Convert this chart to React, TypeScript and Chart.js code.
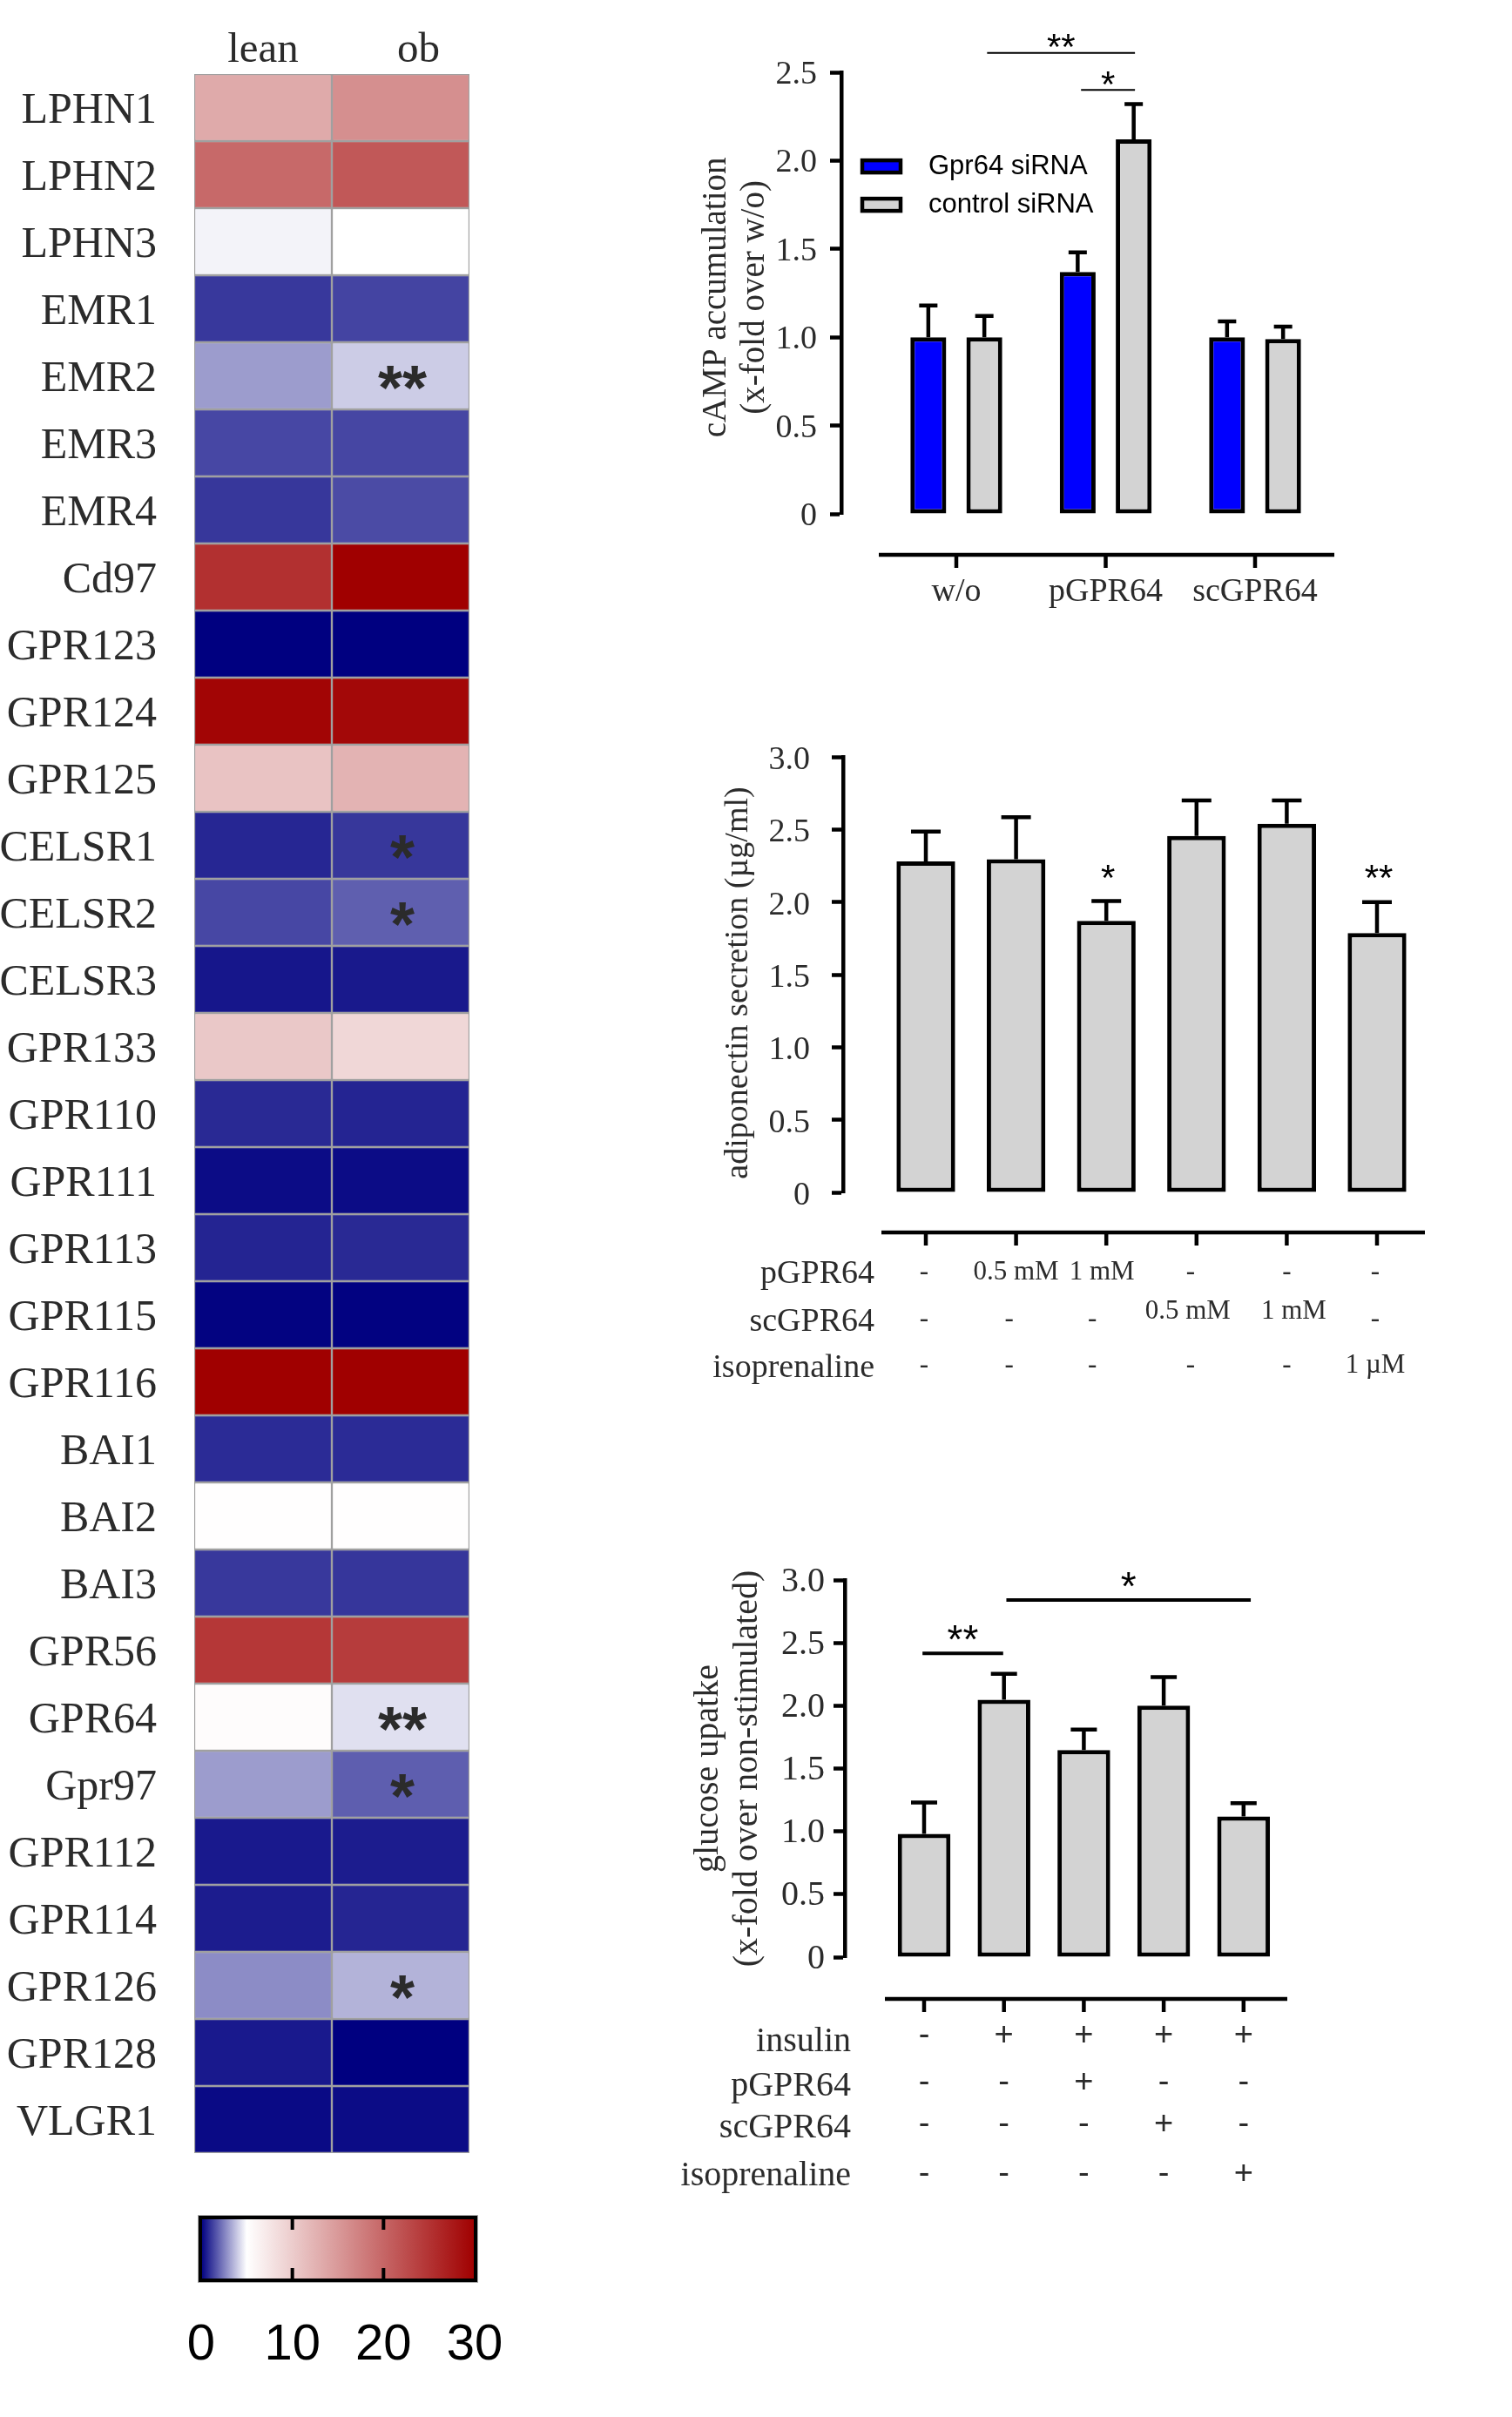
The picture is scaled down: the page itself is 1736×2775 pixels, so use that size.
import { useEffect, useRef } from "react"
import { Chart, registerables } from "chart.js"

Chart.register(...registerables)

const SERIF = '"Liberation Serif", serif'
const SANS = '"Liberation Sans", sans-serif'
const INK = "#2b2b2b"

// heatmap
const genes = [
  "LPHN1", "LPHN2", "LPHN3", "EMR1", "EMR2", "EMR3", "EMR4", "Cd97", "GPR123", "GPR124", "GPR125",
  "CELSR1", "CELSR2", "CELSR3", "GPR133", "GPR110", "GPR111", "GPR113", "GPR115", "GPR116",
  "BAI1", "BAI2", "BAI3", "GPR56", "GPR64", "Gpr97", "GPR112", "GPR114", "GPR126", "GPR128", "VLGR1",
]
const heatColumns = ["lean", "ob"]
const leanValues = [
  13.3, 19.7, 4.76, 1.1, 3.05, 1.4, 1.08, 25.3, 0, 29.5, 10.9,
  0.75, 1.4, 0.43, 10.4, 0.8, 0.23, 0.7, 0.05, 30,
  0.85, 5.1, 1.1, 24.6, 5.3, 3.05, 0.5, 0.55, 2.75, 0.5, 0.2,
]
const obValues = [
  16, 21.4, 5, 1.33, 4, 1.37, 1.47, 30, 0, 29.2, 12.5,
  1.08, 1.86, 0.49, 8.9, 0.7, 0.23, 0.8, 0.03, 30,
  0.85, 5.1, 1.05, 24.1, 4.4, 1.85, 0.55, 0.72, 3.5, 0, 0.24,
]
const obMarks = [
  "", "", "", "", "**", "", "", "", "", "", "",
  "*", "*", "", "", "", "", "", "", "",
  "", "", "", "", "**", "*", "", "", "*", "", "",
]
const colorbarTicks = [0, 10, 20, 30]

// cAMP panel
const campCategories = ["w/o", "pGPR64", "scGPR64"]
const gpr64SirnaValues = [1.0, 1.37, 1.0]
const gpr64SirnaTops = [1.18, 1.48, 1.09]
const controlSirnaValues = [1.0, 2.12, 0.99]
const controlSirnaTops = [1.12, 2.32, 1.06]

// adiponectin panel
const adipoValues = [2.28, 2.295, 1.87, 2.455, 2.54, 1.786]
const adipoTops = [2.486, 2.585, 2.007, 2.7, 2.7, 2.0]
const adipoMarks = ["", "", "*", "", "", "**"]
const adipoPgpr64 = ["-", "0.5 mM", "1 mM", "-", "-", "-"]
const adipoScgpr64 = ["-", "-", "-", "0.5 mM", "1 mM", "-"]
const adipoIso = ["-", "-", "-", "-", "-", "1 µM"]

// glucose panel
const glucoseValues = [0.98, 2.047, 1.647, 2.0, 1.119]
const glucoseTops = [1.23, 2.254, 1.81, 2.227, 1.224]
const glucoseInsulin = ["-", "+", "+", "+", "+"]
const glucosePgpr64 = ["-", "-", "+", "-", "-"]
const glucoseScgpr64 = ["-", "-", "-", "+", "-"]
const glucoseIso = ["-", "-", "-", "-", "+"]

function heatColor(v: number) {
  if (v <= 5) {
    const s = 1 - v / 5
    return `rgb(${Math.round(255 * (1 - s))},${Math.round(255 * (1 - s))},${Math.round(255 - 127 * s)})`
  }
  const t = (v - 5) / 25
  return `rgb(${Math.round(255 - 95 * t)},${Math.round(255 * (1 - t))},${Math.round(255 * (1 - t))})`
}

function drawStars(ctx: CanvasRenderingContext2D, text: string, x: number, y: number, size: number, color = "#000", weight = "") {
  ctx.save()
  ctx.font = `${weight} ${size}px ${SANS}`
  ctx.fillStyle = color
  ctx.textAlign = "center"
  ctx.textBaseline = "alphabetic"
  ctx.fillText(text, x, y + size * 0.47)
  ctx.restore()
}

type Panel = {
  box: { left: number; top: number; width: number; height: number }
  area: { left: number; right: number; top: number; bottom: number }
  firstTick: number
  tickStep: number
  axisStart: number
  axisDrop: number
  yMax: number
  tickFont: number
  tickGap: number
  tickDrop: number
  title: string[]
  titleFont: number
  titleX: number
  capWidth: number
  categories?: string[]
  categoryPadding?: number
  categoryFont?: number
  barGroup: number
  barShare: number
}

function makeBarChart(canvas: HTMLCanvasElement, p: Panel, datasets: any[], draw: (chart: any) => void) {
  const xMin = (p.area.left - p.firstTick) / p.tickStep
  const xMax = (p.area.right - p.firstTick) / p.tickStep
  const count = datasets[0].data.length
  const titleLine = p.titleFont * 1.13
  return new Chart(canvas, {
    type: "bar",
    data: { datasets },
    options: {
      animation: false,
      responsive: false,
      devicePixelRatio: 1,
      layout: {
        padding: {
          top: p.area.top - p.box.top,
          right: p.box.left + p.box.width - p.area.right,
          left: 0,
          bottom: 0,
        },
      },
      datasets: { bar: { categoryPercentage: p.barGroup, barPercentage: p.barShare } },
      scales: {
        x: {
          type: "linear",
          offset: false,
          min: xMin,
          max: xMax,
          afterBuildTicks: (s: any) => {
            s.ticks = Array.from({ length: count }, (_, i) => ({ value: i }))
          },
          afterFit: (s: any) => {
            s.height = p.box.top + p.box.height - p.area.bottom
          },
          border: { display: false },
          grid: { display: false, drawTicks: false },
          ticks: {
            display: !!p.categories,
            autoSkip: false,
            maxRotation: 0,
            padding: p.categoryPadding ?? 0,
            color: INK,
            font: { family: SERIF, size: p.categoryFont ?? 38 },
            callback: (_: any, i: number) => (p.categories ? p.categories[i] : ""),
          },
        },
        y: {
          min: 0,
          max: p.yMax,
          afterFit: (s: any) => {
            s.width = p.area.left - p.box.left
          },
          border: { display: true, color: "#000", width: 4.5 },
          grid: { display: true, drawOnChartArea: false, drawTicks: true, tickLength: 13, tickWidth: 4.5, tickColor: "#000" },
          ticks: {
            stepSize: 0.5,
            autoSkip: false,
            padding: p.tickGap,
            labelOffset: p.tickDrop,
            color: INK,
            font: { family: SERIF, size: p.tickFont },
            callback: (v: any) => (v === 0 ? "0" : Number(v).toFixed(1)),
          },
          title: {
            display: true,
            text: p.title,
            color: INK,
            font: { family: SERIF, size: p.titleFont, lineHeight: 1.13 },
            padding: { top: p.titleX - p.box.left - titleLine / 2, bottom: 0 },
          },
        },
      },
      plugins: { legend: { display: false }, tooltip: { enabled: false } },
    } as any,
    plugins: [
      {
        id: "panelExtras",
        beforeDatasetsDraw(chart: any) {
          // error bars, from the tops list of each dataset
          const { ctx } = chart
          const yScale = chart.scales.y
          chart.data.datasets.forEach((ds: any, i: number) => {
            chart.getDatasetMeta(i).data.forEach((bar: any, j: number) => {
              const top = yScale.getPixelForValue(ds.tops[j])
              ctx.save()
              ctx.strokeStyle = "#000"
              ctx.lineWidth = 4.5
              ctx.beginPath()
              ctx.moveTo(bar.x, bar.y)
              ctx.lineTo(bar.x, top)
              ctx.moveTo(bar.x - p.capWidth / 2, top)
              ctx.lineTo(bar.x + p.capWidth / 2, top)
              ctx.stroke()
              ctx.restore()
            })
          })
        },
        afterDraw(chart: any) {
          // the detached category axis
          const { ctx, chartArea } = chart
          const xScale = chart.scales.x
          const y = chartArea.bottom + p.axisDrop
          ctx.save()
          ctx.strokeStyle = "#000"
          ctx.lineWidth = 4.5
          ctx.beginPath()
          ctx.moveTo(p.axisStart - p.box.left, y)
          ctx.lineTo(chartArea.right, y)
          for (let i = 0; i < count; i++) {
            const x = xScale.getPixelForValue(i)
            ctx.moveTo(x, y)
            ctx.lineTo(x, y + 15)
          }
          ctx.stroke()
          ctx.restore()
          draw(chart)
        },
      },
    ],
  })
}

function drawBracket(chart: any, from: number, to: number, value: number, marks: string, width: number, size: number, lift: number) {
  const { ctx } = chart
  const x1 = chart.scales.x.getPixelForValue(from)
  const x2 = chart.scales.x.getPixelForValue(to)
  const y = chart.scales.y.getPixelForValue(value)
  ctx.save()
  ctx.strokeStyle = "#000"
  ctx.lineWidth = width
  ctx.beginPath()
  ctx.moveTo(x1, y)
  ctx.lineTo(x2, y)
  ctx.stroke()
  ctx.restore()
  drawStars(ctx, marks, (x1 + x2) / 2, y - lift, size)
}

function drawTable(
  chart: any,
  rows: { label: string; cells: string[]; labelDrop: number; cellDrop: number; textRise?: number }[],
  labelRight: number,
  labelFont: number,
  cellFont: string,
  dashNudge: number[],
  textNudge: number[],
) {
  const { ctx, chartArea } = chart
  ctx.save()
  ctx.fillStyle = INK
  ctx.textBaseline = "middle"
  rows.forEach((row) => {
    ctx.font = `${labelFont}px ${SERIF}`
    ctx.textAlign = "right"
    ctx.fillText(row.label, labelRight, chartArea.bottom + row.labelDrop)
    ctx.font = cellFont
    ctx.textAlign = "center"
    row.cells.forEach((cell, i) => {
      const symbol = cell === "-" || cell === "+"
      const x = chart.scales.x.getPixelForValue(i) + (symbol ? dashNudge[i] : textNudge[i])
      ctx.fillText(cell, x, chartArea.bottom + row.cellDrop - (symbol ? 0 : row.textRise ?? 0))
    })
  })
  ctx.restore()
}

const campPanel: Panel = {
  box: { left: 760, top: 0, width: 976, height: 720 },
  area: { left: 966, right: 1532, top: 83, bottom: 590 },
  firstTick: 1098,
  tickStep: 171.5,
  axisStart: 1009,
  axisDrop: 47,
  yMax: 2.5,
  tickFont: 38,
  tickGap: 15,
  tickDrop: 3,
  title: ["cAMP accumulation ", "(x-fold over w/o) "],
  titleFont: 39,
  titleX: 823,
  capWidth: 21,
  categories: campCategories,
  categoryPadding: 67,
  categoryFont: 38,
  barGroup: 0.75,
  barShare: 0.64,
}

const adipoPanel: Panel = {
  box: { left: 800, top: 820, width: 900, height: 800 },
  area: { left: 968, right: 1636, top: 869, bottom: 1369 },
  firstTick: 1063,
  tickStep: 103.6,
  axisStart: 1012,
  axisDrop: 46,
  yMax: 3,
  tickFont: 38,
  tickGap: 25,
  tickDrop: 4,
  title: ["adiponectin secretion (µg/ml)  "],
  titleFont: 38,
  titleX: 848,
  capWidth: 34,
  barGroup: 1,
  barShare: 0.65,
}

const glucosePanel: Panel = {
  box: { left: 770, top: 1760, width: 760, height: 790 },
  area: { left: 970, right: 1478, top: 1814, bottom: 2247 },
  firstTick: 1061,
  tickStep: 91.7,
  axisStart: 1016,
  axisDrop: 48,
  yMax: 3,
  tickFont: 40,
  tickGap: 10,
  tickDrop: 2,
  title: ["glucose upatke", "(x-fold over non-stimulated)"],
  titleFont: 40,
  titleX: 813,
  capWidth: 30,
  barGroup: 1,
  barShare: 0.66,
}

const barStyle = { borderColor: "#000", borderWidth: 5, borderSkipped: false }
const toPoints = (values: number[]) => values.map((y, x) => ({ x, y }))

function buildHeatmap(canvas: HTMLCanvasElement) {
  return new Chart(canvas, {
    type: "bar",
    data: {
      labels: genes,
      datasets: [
        { label: "lean", data: genes.map(() => 1), backgroundColor: leanValues.map(heatColor) },
        { label: "ob", data: genes.map(() => 1), backgroundColor: obValues.map(heatColor) },
      ],
    },
    options: {
      indexAxis: "y",
      animation: false,
      responsive: false,
      devicePixelRatio: 1,
      layout: { padding: { right: 6, bottom: 80 } },
      datasets: { bar: { categoryPercentage: 1, barPercentage: 1, borderColor: "#a0a0a0", borderWidth: 1.5, borderSkipped: false } },
      scales: {
        x: {
          type: "linear",
          position: "top",
          stacked: true,
          offset: false,
          min: 0,
          max: 2,
          afterBuildTicks: (s: any) => {
            s.ticks = [{ value: 0.5 }, { value: 1.63 }]
          },
          afterFit: (s: any) => {
            s.height = 85
          },
          border: { display: false },
          grid: { display: false, drawTicks: false },
          ticks: {
            autoSkip: false,
            maxRotation: 0,
            padding: -3,
            color: INK,
            font: { family: SERIF, size: 49 },
            callback: (_: any, i: number) => heatColumns[i],
          },
        },
        y: {
          stacked: true,
          afterFit: (s: any) => {
            s.width = 223
          },
          border: { display: false },
          grid: { display: false, drawTicks: false },
          ticks: { autoSkip: false, padding: 43, labelOffset: 4, color: INK, font: { family: SERIF, size: 50 } },
        },
      },
      plugins: { legend: { display: false }, tooltip: { enabled: false } },
    } as any,
    plugins: [
      {
        id: "cellMarks",
        afterDatasetsDraw(chart: any) {
          chart.getDatasetMeta(1).data.forEach((bar: any, i: number) => {
            if (obMarks[i]) drawStars(chart.ctx, obMarks[i], (bar.x + bar.base) / 2 + 2, bar.y + 5, 72, INK, "bold")
          })
        },
      },
    ],
  })
}

function buildColorbar(canvas: HTMLCanvasElement) {
  return new Chart(canvas, {
    type: "bar",
    data: {
      labels: ["scale"],
      datasets: [
        {
          data: [[0, 30]],
          backgroundColor: (c: any) => {
            const area = c.chart.chartArea
            if (!area) return "#fff"
            const g = c.chart.ctx.createLinearGradient(area.left, 0, area.right, 0)
            g.addColorStop(0, heatColor(0))
            g.addColorStop(5 / 30, heatColor(5))
            g.addColorStop(1, heatColor(30))
            return g
          },
        },
      ],
    } as any,
    options: {
      indexAxis: "y",
      animation: false,
      responsive: false,
      devicePixelRatio: 1,
      layout: { padding: { left: 60, right: 76, top: 17 } },
      datasets: { bar: { categoryPercentage: 1, barPercentage: 1 } },
      scales: {
        x: {
          type: "linear",
          min: 0,
          max: 30,
          offset: false,
          afterBuildTicks: (s: any) => {
            s.ticks = colorbarTicks.map((value) => ({ value }))
          },
          afterFit: (s: any) => {
            s.height = 101
          },
          border: { display: false },
          grid: { display: false, drawTicks: false },
          ticks: { padding: 41, color: "#000", font: { family: SANS, size: 58 }, maxRotation: 0, autoSkip: false },
        },
        y: { display: false },
      },
      plugins: { legend: { display: false }, tooltip: { enabled: false } },
    } as any,
    plugins: [
      {
        id: "colorbarFrame",
        afterDatasetsDraw(chart: any) {
          const { ctx, chartArea: a } = chart
          ctx.save()
          ctx.strokeStyle = "#aaa"
          ctx.lineWidth = 1
          ctx.strokeRect(a.left - 3.5, a.top - 3.5, a.right - a.left + 7, a.bottom - a.top + 7)
          ctx.strokeStyle = "#000"
          ctx.lineWidth = 4
          ctx.strokeRect(a.left - 1, a.top - 1, a.right - a.left + 2, a.bottom - a.top + 2)
          colorbarTicks.slice(1, -1).forEach((v) => {
            const x = chart.scales.x.getPixelForValue(v)
            ctx.beginPath()
            ctx.moveTo(x, a.top)
            ctx.lineTo(x, a.top + 13)
            ctx.moveTo(x, a.bottom - 13)
            ctx.lineTo(x, a.bottom)
            ctx.stroke()
          })
          ctx.restore()
        },
      },
    ],
  })
}

function buildCamp(canvas: HTMLCanvasElement) {
  return makeBarChart(
    canvas,
    campPanel,
    [
      { label: "Gpr64 siRNA", data: toPoints(gpr64SirnaValues), tops: gpr64SirnaTops, backgroundColor: "#0000ff", ...barStyle },
      { label: "control siRNA", data: toPoints(controlSirnaValues), tops: controlSirnaTops, backgroundColor: "#d3d3d3", ...barStyle },
    ],
    (chart) => {
      const { ctx } = chart
      drawBracket(chart, 0.206, 1.196, 2.61, "**", 2, 42, 12)
      drawBracket(chart, 0.835, 1.196, 2.4, "*", 2, 42, 12)
      chart.data.datasets.forEach((ds: any, i: number) => {
        const y = chart.scales.y.getPixelForValue(1.967 - i * 0.217)
        ctx.save()
        ctx.fillStyle = ds.backgroundColor
        ctx.strokeStyle = "#000"
        ctx.lineWidth = 4.5
        ctx.fillRect(230, y - 7, 44, 14)
        ctx.strokeRect(230, y - 7, 44, 14)
        ctx.fillStyle = "#000"
        ctx.font = `31px ${SANS}`
        ctx.textBaseline = "middle"
        ctx.fillText(ds.label, 306, y)
        ctx.restore()
      })
    },
  )
}

function buildAdipo(canvas: HTMLCanvasElement) {
  return makeBarChart(
    canvas,
    adipoPanel,
    [{ data: toPoints(adipoValues), tops: adipoTops, backgroundColor: "#d3d3d3", ...barStyle }],
    (chart) => {
      adipoMarks.forEach((m, i) => {
        if (m) drawStars(chart.ctx, m, chart.scales.x.getPixelForValue(i) + 2, chart.scales.y.getPixelForValue(2.2), 42)
      })
      drawTable(
        chart,
        [
          { label: "pGPR64", cells: adipoPgpr64, labelDrop: 94, cellDrop: 92 },
          { label: "scGPR64", cells: adipoScgpr64, labelDrop: 149, cellDrop: 146, textRise: 9 },
          { label: "isoprenaline", cells: adipoIso, labelDrop: 202, cellDrop: 199 },
        ],
        204,
        38,
        `31px ${SERIF}`,
        [-2, -8, -16, -7, 0, -2],
        [0, 0, -5, -10, 8, -2],
      )
    },
  )
}

function buildGlucose(canvas: HTMLCanvasElement) {
  return makeBarChart(
    canvas,
    glucosePanel,
    [{ data: toPoints(glucoseValues), tops: glucoseTops, backgroundColor: "#d3d3d3", ...barStyle }],
    (chart) => {
      drawBracket(chart, -0.02, 0.99, 2.417, "**", 4, 46, 22)
      drawBracket(chart, 1.03, 4.09, 2.84, "*", 4, 46, 22)
      drawTable(
        chart,
        [
          { label: "insulin", cells: glucoseInsulin, labelDrop: 97, cellDrop: 91 },
          { label: "pGPR64", cells: glucosePgpr64, labelDrop: 148, cellDrop: 145 },
          { label: "scGPR64", cells: glucoseScgpr64, labelDrop: 196, cellDrop: 193 },
          { label: "isoprenaline", cells: glucoseIso, labelDrop: 251, cellDrop: 250 },
        ],
        207,
        40,
        `38px ${SANS}`,
        [0, 0, 0, 0, 0],
        [0, 0, 0, 0, 0],
      )
    },
  )
}

function ChartCanvas({ box, build }: { box: Panel["box"]; build: (c: HTMLCanvasElement) => Chart }) {
  const canvasRef = useRef<HTMLCanvasElement>(null)

  useEffect(() => {
    if (!canvasRef.current) return
    const chart = build(canvasRef.current)
    return () => chart.destroy()
  }, [build])

  return (
    <canvas
      ref={canvasRef}
      width={box.width}
      height={box.height}
      style={{ position: "absolute", left: box.left, top: box.top, width: box.width, height: box.height }}
    />
  )
}

export default function App() {
  return (
    <div style={{ position: "absolute", left: 0, top: 0, width: 1736, height: 2775, background: "#fff", overflow: "hidden" }}>
      <ChartCanvas box={{ left: 0, top: 0, width: 545, height: 2552 }} build={buildHeatmap} />
      <ChartCanvas box={{ left: 171, top: 2530, width: 450, height: 188 }} build={buildColorbar} />
      <ChartCanvas box={campPanel.box} build={buildCamp} />
      <ChartCanvas box={adipoPanel.box} build={buildAdipo} />
      <ChartCanvas box={glucosePanel.box} build={buildGlucose} />
    </div>
  )
}
